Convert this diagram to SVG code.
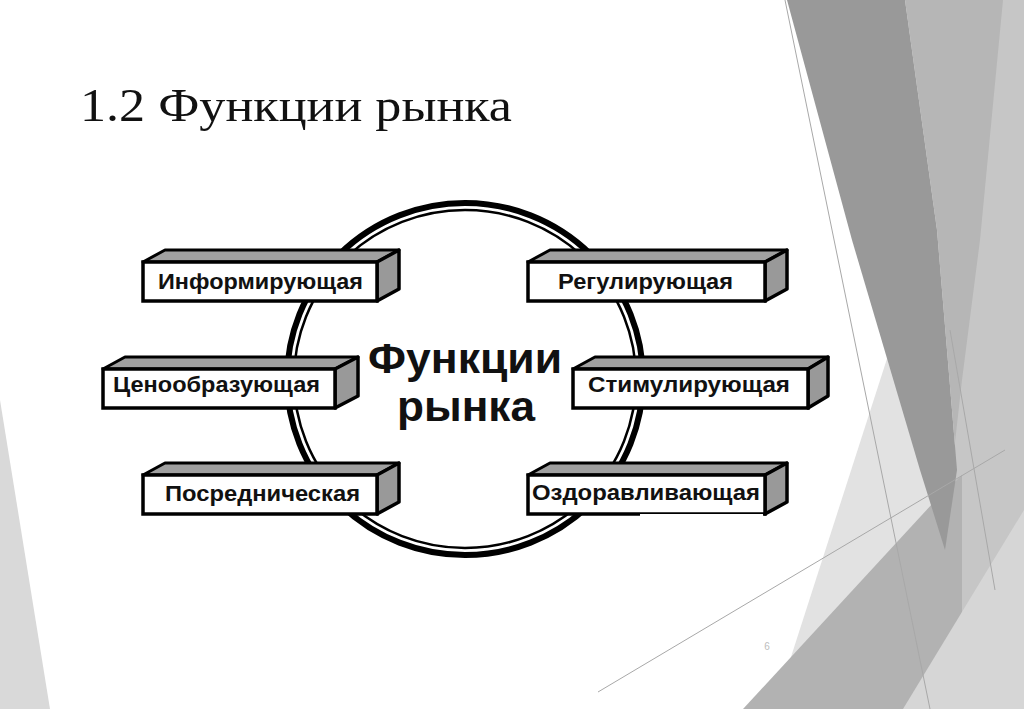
<svg xmlns="http://www.w3.org/2000/svg" width="1024" height="709" viewBox="0 0 1024 709">
<style>
.front{fill:#fff;stroke:#000;stroke-width:3.5;stroke-linejoin:miter}
.top{fill:#a0a0a0;stroke:#000;stroke-width:3;stroke-linejoin:round}
.side{fill:#999;stroke:#000;stroke-width:3.5;stroke-linejoin:round}
.lbl{font-family:"Liberation Sans",Arial,sans-serif;font-weight:bold;font-size:22px;fill:#111;text-anchor:middle}
.center{font-family:"Liberation Sans",Arial,sans-serif;font-weight:bold;font-size:42px;fill:#111;text-anchor:middle}
.thin{fill:none;stroke:#a8a8a8;stroke-width:1}
</style>
<rect width="1024" height="709" fill="#fff"/>
<g id="background">
<polygon points="0,400 0,709 50,709" fill="#d9d9d9"/>
<polygon points="905,0 1024,0 1024,709 860,709 945,550 957,470 937,230" fill="#b6b6b6"/>
<polygon points="1003,0 1024,0 1024,709 925,709 962,380 980,240" fill="#c6c6c6"/>
<polygon points="893,340 945,550 860,709 775,709 790,660" fill="#e2e2e2"/>
<polygon points="743,709 933,503 962,475 962,709" fill="#b2b2b2"/>
<polygon points="903,709 1024,510 1024,709" fill="#d6d6d6"/>
<polygon points="787,0 905,0 937,230 957,470 945,550 920,470 852,240" fill="#999"/>
<line class="thin" x1="785" y1="0" x2="930" y2="709"/>
<line class="thin" x1="598" y1="692" x2="1005" y2="450"/>
<line class="thin" x1="950" y1="330" x2="995" y2="590"/>
<text x="767" y="650" font-family="Liberation Sans,Arial,sans-serif" font-size="10" fill="#bdbdbd" text-anchor="middle">6</text>
</g>
<text x="80" y="121" font-family="Liberation Serif,Times New Roman,serif" font-size="46" fill="#111" textLength="432" lengthAdjust="spacingAndGlyphs">1.2 Функции рынка</text>
<g id="hub">
<ellipse cx="465" cy="379" rx="178" ry="176" fill="none" stroke="#000" stroke-width="6"/>
<ellipse cx="465" cy="379" rx="171" ry="169" fill="none" stroke="#000" stroke-width="2.5"/>
<text class="center" x="465" y="373" textLength="194" lengthAdjust="spacingAndGlyphs">Функции</text>
<text class="center" x="466" y="421" textLength="138" lengthAdjust="spacingAndGlyphs">рынка</text>
</g>
<g id="connectors"/>
<g id="n1">
<polygon class="top" points="143,262 165,250 399,250 377,262"/>
<polygon class="side" points="377,262 399,250 399,289 377,301"/>
<rect class="front" x="143" y="262" width="234" height="39"/>
<text class="lbl" x="260.5" y="288.5" textLength="205" lengthAdjust="spacingAndGlyphs">Информирующая</text>
</g>
<g id="n2">
<polygon class="top" points="528,262 550,250 787,250 765,262"/>
<polygon class="side" points="765,262 787,250 787,289 765,301"/>
<rect class="front" x="528" y="262" width="237" height="39"/>
<text class="lbl" x="645.5" y="288.5" textLength="175" lengthAdjust="spacingAndGlyphs">Регулирующая</text>
</g>
<g id="n3">
<polygon class="top" points="103,369 125,357 358,357 335,369"/>
<polygon class="side" points="335,369 358,357 358,396 335,408"/>
<rect class="front" x="103" y="369" width="232" height="39"/>
<text class="lbl" x="216.5" y="392" textLength="207" lengthAdjust="spacingAndGlyphs">Ценообразующая</text>
</g>
<g id="n4">
<polygon class="top" points="573,369 595,357 828,357 808,369"/>
<polygon class="side" points="808,369 828,357 828,396 808,408"/>
<rect class="front" x="573" y="369" width="235" height="39"/>
<text class="lbl" x="689" y="392" textLength="202" lengthAdjust="spacingAndGlyphs">Стимулирующая</text>
</g>
<g id="n5">
<polygon class="top" points="143,475 165,463 399,463 377,475"/>
<polygon class="side" points="377,475 399,463 399,502 377,514"/>
<rect class="front" x="143" y="475" width="234" height="39"/>
<text class="lbl" x="262.5" y="500.5" textLength="195" lengthAdjust="spacingAndGlyphs">Посредническая</text>
</g>
<g id="n6">
<polygon class="top" points="528,475 550,463 787,463 765,475"/>
<polygon class="side" points="765,475 787,463 787,502 765,514"/>
<rect class="front" x="528" y="475" width="237" height="39"/>
<line x1="640" y1="515" x2="763" y2="515" stroke="#fff" stroke-width="2"/>
<text class="lbl" x="646" y="499.5" textLength="228" lengthAdjust="spacingAndGlyphs">Оздоравливающая</text>
</g>
</svg>
